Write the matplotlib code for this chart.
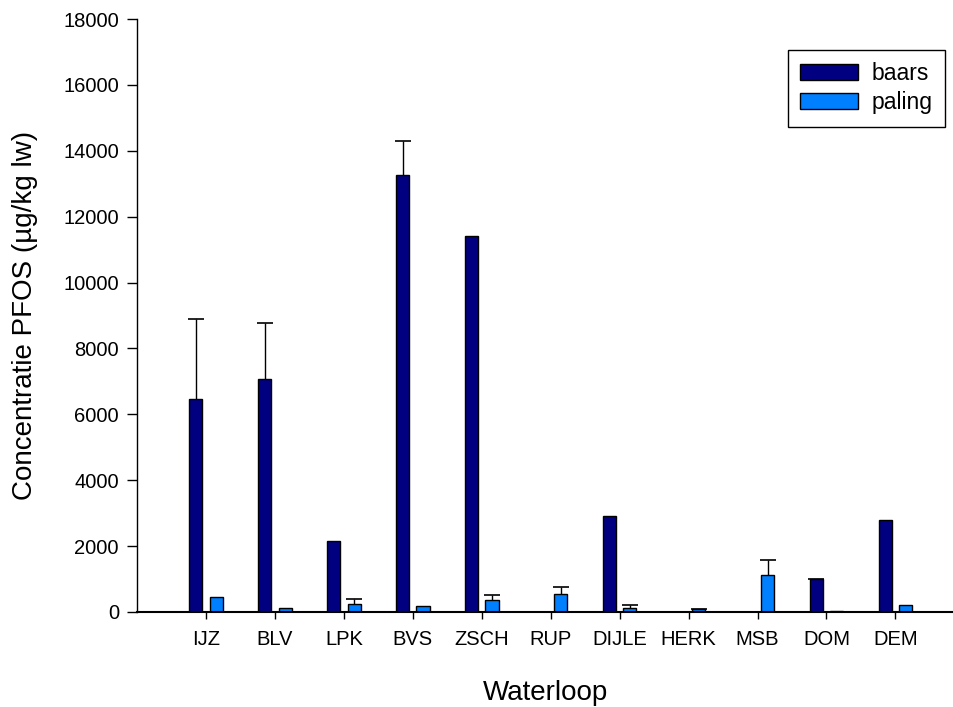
import matplotlib
matplotlib.use("Agg")
import matplotlib.pyplot as plt
import numpy as np

plt.rcParams['font.family'] = ['Liberation Sans', 'DejaVu Sans']

sites = ["IJZ", "BLV", "LPK", "BVS", "ZSCH", "RUP", "DIJLE", "HERK", "MSB", "DOM", "DEM"]
baars = [6460, 7060, 2150, 13280, 11400, 0, 2910, 0, 0, 990, 2780]
baars_err = [2420, 1700, 0, 1010, 0, 0, 0, 0, 0, 10, 0]
paling = [465, 130, 233, 190, 364, 556, 130, 90, 1132, 40, 212]
paling_err = [0, 0, 160, 0, 150, 200, 70, 10, 450, 0, 0]

x = np.arange(len(sites))
w = 0.19
off = 0.149

fig = plt.figure(figsize=(9.54, 7.07), dpi=100)
ax = fig.add_axes([0.1436, 0.1344, 1.0 - 0.1436, 0.9731 - 0.1344])

ax.bar(x - off, baars, w, color="#000080", edgecolor="black", linewidth=1, label="baars", zorder=2)
ax.bar(x + off, paling, w, color="#0080FF", edgecolor="black", linewidth=1, label="paling", zorder=2)

# upper error bars only: stem + cap at the top
for vals, errs, sh in [(baars, baars_err, -off), (paling, paling_err, off)]:
    v = np.array(vals, dtype=float)
    e = np.array(errs, dtype=float)
    m = e > 0
    ax.vlines(x[m] + sh, v[m], v[m] + e[m], color="black", linewidth=1, zorder=1)
    ax.plot(x[m] + sh, v[m] + e[m], linestyle="none", marker="_", markersize=12,
            markeredgewidth=1.2, color="black", zorder=1)

ax.set_xlim(-1, 10.85)
ax.set_ylim(0, 18000)
ax.set_yticks(np.arange(0, 18001, 2000))
ax.set_xticks(x)
ax.set_xticklabels(sites)
ax.tick_params(axis="y", direction="out", length=7, width=1, labelsize=14.5, pad=6)
ax.tick_params(axis="x", direction="out", length=5, width=1, labelsize=14.5, pad=8)

for s in ["top", "right"]:
    ax.spines[s].set_visible(False)
ax.spines["left"].set_linewidth(1)
ax.spines["bottom"].set_linewidth(1.5)

ax.set_ylabel("Concentratie PFOS (µg/kg lw)", fontsize=20, labelpad=18)
ax.set_xlabel("Waterloop", fontsize=20, labelpad=22)

leg = ax.legend(loc="upper right", bbox_to_anchor=(0.989, 0.948), borderaxespad=0,
                fontsize=16.5, frameon=True, fancybox=False, edgecolor="black", framealpha=1,
                handlelength=2.5, handleheight=0.7, borderpad=0.55, labelspacing=0.25,
                handletextpad=0.6)
leg.get_frame().set_linewidth(1)

fig.savefig("out.png", dpi=100)
